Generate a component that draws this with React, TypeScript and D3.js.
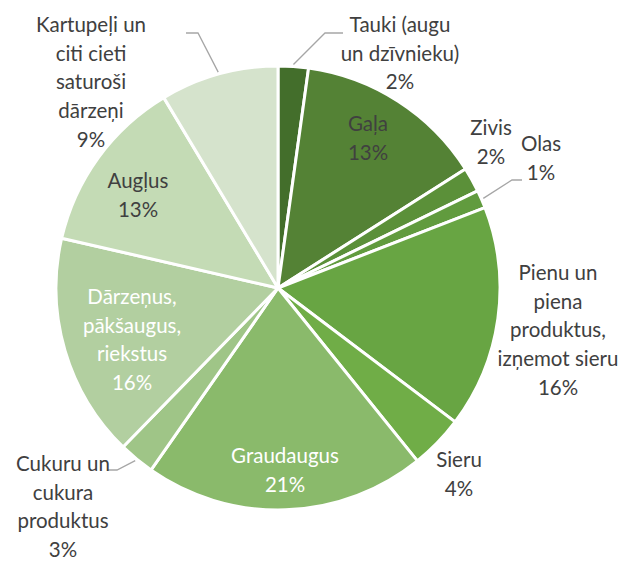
import React, { useRef, useEffect } from "react";
import * as d3 from "d3";

const categories = [
  "Tauki (augu un dzīvnieku)",
  "Gaļa",
  "Zivis",
  "Olas",
  "Pienu un piena produktus, izņemot sieru",
  "Sieru",
  "Graudaugus",
  "Cukuru un cukura produktus",
  "Dārzeņus, pākšaugus, riekstus",
  "Augļus",
  "Kartupeļi un citi cieti saturoši dārzeņi",
];
const values = [2.2, 13.8, 1.8, 1.3, 16.2, 3.9, 20.5, 2.6, 16.3, 12.8, 8.6];
const percentLabels = ["2%", "13%", "2%", "1%", "16%", "4%", "21%", "3%", "16%", "13%", "9%"];
const labelLines = [
  ["Tauki (augu", "un dzīvnieku)"],
  ["Gaļa"],
  ["Zivis"],
  ["Olas"],
  ["Pienu un", "piena", "produktus,", "izņemot sieru"],
  ["Sieru"],
  ["Graudaugus"],
  ["Cukuru un", "cukura", "produktus"],
  ["Dārzeņus,", "pākšaugus,", "riekstus"],
  ["Augļus"],
  ["Kartupeļi un", "citi cieti", "saturoši", "dārzeņi"],
];
const sliceColors = [
  "#436e2b", "#548235", "#5b9039", "#619b3e", "#68a543", "#70ad47",
  "#8aba6b", "#9fc587", "#b2cfa0", "#c4dbb5", "#d5e3cc",
];

// label layout: centre x, y of first line, text colour, leader elbow
const labelLayout = [
  { x: 400, y: 27, fill: "#404040", leader: [[325, 33], [343, 33]] },
  { x: 368, y: 126, fill: "#404040" },
  { x: 491, y: 130, fill: "#404040" },
  { x: 541, y: 146, fill: "#404040", leader: [[512, 180], [522, 180]] },
  { x: 558, y: 275, fill: "#404040" },
  { x: 459, y: 462, fill: "#404040" },
  { x: 285, y: 458, fill: "#ffffff" },
  { x: 63, y: 466, fill: "#404040", leader: [[117, 470], [107, 470]] },
  { x: 132, y: 299, fill: "#ffffff" },
  { x: 138, y: 183, fill: "#404040" },
  { x: 91, y: 27, fill: "#404040", leader: [[198, 33], [186, 33]] },
];

const W = 634;
const H = 561;
const cx = 278;
const cy = 288;
const radius = 222;
const lineH = 28.6;

const App: React.FC = () => {
  const svgRef = useRef<SVGSVGElement | null>(null);

  useEffect(() => {
    document.body.style.margin = "0";
    if (!svgRef.current) return;
    const svg = d3.select(svgRef.current);
    svg.selectAll("*").remove();

    const data = categories.map((c, i) => ({ label: c, value: values[i], index: i }));

    const pie = d3
      .pie<{ label: string; value: number; index: number }>()
      .value((d) => d.value)
      .sort(null);
    const arc = d3
      .arc<d3.PieArcDatum<{ label: string; value: number; index: number }>>()
      .innerRadius(0)
      .outerRadius(radius);

    const pieData = pie(data);
    const g = svg.append("g").attr("transform", `translate(${cx},${cy})`);

    g.selectAll("path")
      .data(pieData)
      .enter()
      .append("path")
      .attr("d", arc as any)
      .attr("fill", (d) => sliceColors[d.index])
      .attr("stroke", "#fff")
      .attr("stroke-width", 3)
      .attr("stroke-linejoin", "round");

    // leader lines
    pieData.forEach((d) => {
      const lay = labelLayout[d.index];
      if (!lay.leader) return;
      const mid = (d.startAngle + d.endAngle) / 2;
      const r0 = radius + 2;
      const start: [number, number] = [cx + Math.sin(mid) * r0, cy - Math.cos(mid) * r0];
      const pts = [start, ...lay.leader];
      svg
        .append("polyline")
        .attr("points", pts.map((p) => p.join(",")).join(" "))
        .attr("fill", "none")
        .attr("stroke", "#a6a6a6")
        .attr("stroke-width", 1.3);
    });

    // labels
    pieData.forEach((d) => {
      const lay = labelLayout[d.index];
      const lines = [...labelLines[d.index], percentLabels[d.index]];
      const t = svg
        .append("text")
        .attr("text-anchor", "middle")
        .attr("font-family", "Lato, 'Noto Sans', sans-serif")
        .attr("font-size", 20.5)
        .attr("fill", lay.fill);
      lines.forEach((ln, i) => {
        t.append("tspan")
          .attr("x", lay.x)
          .attr("y", lay.y + i * lineH)
          .attr("dominant-baseline", "middle")
          .text(ln);
      });
    });
  }, []);

  return <svg ref={svgRef} width={W} height={H} style={{ display: "block" }}></svg>;
};

export default App;
